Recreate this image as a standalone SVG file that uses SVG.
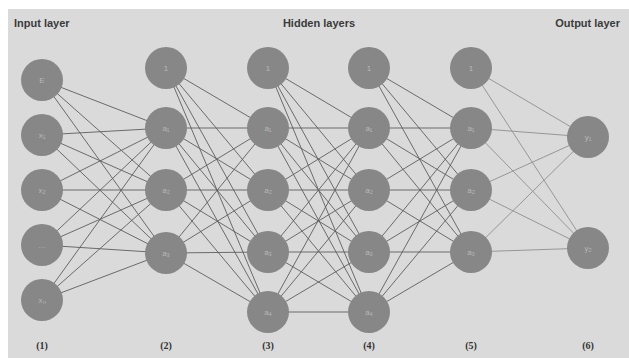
<svg xmlns="http://www.w3.org/2000/svg" width="629" height="358" viewBox="0 0 629 358">
<style>
.bg{fill:#dadada}
.node circle{fill:#878787}
.node text{fill:#b8b8b8;font-family:"Liberation Sans",Arial,sans-serif;font-size:8px;text-anchor:middle}
.edges line{stroke:#5e5e5e;stroke-width:0.9}
.edges .light line{stroke:#8e8e8e}
.title{fill:#3a3a3a;font-family:"Liberation Sans",Arial,sans-serif;font-size:11px;font-weight:bold}
.num{fill:#333;font-family:"Liberation Serif","Times New Roman",serif;font-size:10px;font-weight:bold;text-anchor:middle}
</style>
<rect x="0" y="0" width="629" height="358" fill="#ffffff"/>
<rect class="bg" x="8" y="9" width="621" height="349"/>
<text class="title" x="14" y="27">Input layer</text>
<text class="title" x="319" y="27" text-anchor="middle">Hidden layers</text>
<text class="title" x="620" y="27" text-anchor="end">Output layer</text>
<g class="edges">
<g id="e12">
<line x1="42" y1="80" x2="166" y2="128"/><line x1="42" y1="80" x2="166" y2="190"/><line x1="42" y1="80" x2="166" y2="253"/>
<line x1="42" y1="135" x2="166" y2="128"/><line x1="42" y1="135" x2="166" y2="190"/><line x1="42" y1="135" x2="166" y2="253"/>
<line x1="42" y1="190" x2="166" y2="128"/><line x1="42" y1="190" x2="166" y2="190"/><line x1="42" y1="190" x2="166" y2="253"/>
<line x1="42" y1="245" x2="166" y2="128"/><line x1="42" y1="245" x2="166" y2="190"/><line x1="42" y1="245" x2="166" y2="253"/>
<line x1="42" y1="300" x2="166" y2="128"/><line x1="42" y1="300" x2="166" y2="190"/><line x1="42" y1="300" x2="166" y2="253"/>
</g>
<g id="e23">
<line x1="166" y1="68" x2="268" y2="128"/><line x1="166" y1="68" x2="268" y2="190"/><line x1="166" y1="68" x2="268" y2="252"/><line x1="166" y1="68" x2="268" y2="312"/>
<line x1="166" y1="128" x2="268" y2="128"/><line x1="166" y1="128" x2="268" y2="190"/><line x1="166" y1="128" x2="268" y2="252"/><line x1="166" y1="128" x2="268" y2="312"/>
<line x1="166" y1="190" x2="268" y2="128"/><line x1="166" y1="190" x2="268" y2="190"/><line x1="166" y1="190" x2="268" y2="252"/><line x1="166" y1="190" x2="268" y2="312"/>
<line x1="166" y1="253" x2="268" y2="128"/><line x1="166" y1="253" x2="268" y2="190"/><line x1="166" y1="253" x2="268" y2="252"/><line x1="166" y1="253" x2="268" y2="312"/>
</g>
<g id="e34">
<line x1="268" y1="68" x2="369" y2="128"/><line x1="268" y1="68" x2="369" y2="190"/><line x1="268" y1="68" x2="369" y2="252"/><line x1="268" y1="68" x2="369" y2="312"/>
<line x1="268" y1="128" x2="369" y2="128"/><line x1="268" y1="128" x2="369" y2="190"/><line x1="268" y1="128" x2="369" y2="252"/><line x1="268" y1="128" x2="369" y2="312"/>
<line x1="268" y1="190" x2="369" y2="128"/><line x1="268" y1="190" x2="369" y2="190"/><line x1="268" y1="190" x2="369" y2="252"/><line x1="268" y1="190" x2="369" y2="312"/>
<line x1="268" y1="252" x2="369" y2="128"/><line x1="268" y1="252" x2="369" y2="190"/><line x1="268" y1="252" x2="369" y2="252"/><line x1="268" y1="252" x2="369" y2="312"/>
<line x1="268" y1="312" x2="369" y2="128"/><line x1="268" y1="312" x2="369" y2="190"/><line x1="268" y1="312" x2="369" y2="252"/><line x1="268" y1="312" x2="369" y2="312"/>
</g>
<g id="e45">
<line x1="369" y1="68" x2="471" y2="128"/><line x1="369" y1="68" x2="471" y2="190"/><line x1="369" y1="68" x2="471" y2="252"/>
<line x1="369" y1="128" x2="471" y2="128"/><line x1="369" y1="128" x2="471" y2="190"/><line x1="369" y1="128" x2="471" y2="252"/>
<line x1="369" y1="190" x2="471" y2="128"/><line x1="369" y1="190" x2="471" y2="190"/><line x1="369" y1="190" x2="471" y2="252"/>
<line x1="369" y1="252" x2="471" y2="128"/><line x1="369" y1="252" x2="471" y2="190"/><line x1="369" y1="252" x2="471" y2="252"/>
<line x1="369" y1="312" x2="471" y2="128"/><line x1="369" y1="312" x2="471" y2="190"/><line x1="369" y1="312" x2="471" y2="252"/>
</g>
<g id="e56" class="light">
<line x1="471" y1="68" x2="588" y2="137"/><line x1="471" y1="68" x2="588" y2="248"/>
<line x1="471" y1="128" x2="588" y2="137"/><line x1="471" y1="128" x2="588" y2="248"/>
<line x1="471" y1="190" x2="588" y2="137"/><line x1="471" y1="190" x2="588" y2="248"/>
<line x1="471" y1="252" x2="588" y2="137"/><line x1="471" y1="252" x2="588" y2="248"/>
</g>
</g>
<g id="l1n1" class="node"><circle cx="42" cy="80" r="21"/><text x="42" y="83">E</text></g>
<g id="l1n2" class="node"><circle cx="42" cy="135" r="21"/><text x="42" y="138">x₁</text></g>
<g id="l1n3" class="node"><circle cx="42" cy="190" r="21"/><text x="42" y="193">x₂</text></g>
<g id="l1n4" class="node"><circle cx="42" cy="245" r="21"/><text x="42" y="248">…</text></g>
<g id="l1n5" class="node"><circle cx="42" cy="300" r="21"/><text x="42" y="303">xₙ</text></g>
<g id="l2n1" class="node"><circle cx="166" cy="68" r="21"/><text x="166" y="71">1</text></g>
<g id="l2n2" class="node"><circle cx="166" cy="128" r="21"/><text x="166" y="131">a₁</text></g>
<g id="l2n3" class="node"><circle cx="166" cy="190" r="21"/><text x="166" y="193">a₂</text></g>
<g id="l2n4" class="node"><circle cx="166" cy="253" r="21"/><text x="166" y="256">a₃</text></g>
<g id="l3n1" class="node"><circle cx="268" cy="68" r="21"/><text x="268" y="71">1</text></g>
<g id="l3n2" class="node"><circle cx="268" cy="128" r="21"/><text x="268" y="131">a₁</text></g>
<g id="l3n3" class="node"><circle cx="268" cy="190" r="21"/><text x="268" y="193">a₂</text></g>
<g id="l3n4" class="node"><circle cx="268" cy="252" r="21"/><text x="268" y="255">a₃</text></g>
<g id="l3n5" class="node"><circle cx="268" cy="312" r="21"/><text x="268" y="315">a₄</text></g>
<g id="l4n1" class="node"><circle cx="369" cy="68" r="21"/><text x="369" y="71">1</text></g>
<g id="l4n2" class="node"><circle cx="369" cy="128" r="21"/><text x="369" y="131">a₁</text></g>
<g id="l4n3" class="node"><circle cx="369" cy="190" r="21"/><text x="369" y="193">a₂</text></g>
<g id="l4n4" class="node"><circle cx="369" cy="252" r="21"/><text x="369" y="255">a₃</text></g>
<g id="l4n5" class="node"><circle cx="369" cy="312" r="21"/><text x="369" y="315">a₄</text></g>
<g id="l5n1" class="node"><circle cx="471" cy="68" r="21"/><text x="471" y="71">1</text></g>
<g id="l5n2" class="node"><circle cx="471" cy="128" r="21"/><text x="471" y="131">a₁</text></g>
<g id="l5n3" class="node"><circle cx="471" cy="190" r="21"/><text x="471" y="193">a₂</text></g>
<g id="l5n4" class="node"><circle cx="471" cy="252" r="21"/><text x="471" y="255">a₃</text></g>
<g id="l6n1" class="node"><circle cx="588" cy="137" r="21"/><text x="588" y="140">y₁</text></g>
<g id="l6n2" class="node"><circle cx="588" cy="248" r="21"/><text x="588" y="251">y₂</text></g>
<text class="num" x="42" y="349">(1)</text>
<text class="num" x="166" y="349">(2)</text>
<text class="num" x="268" y="349">(3)</text>
<text class="num" x="369" y="349">(4)</text>
<text class="num" x="471" y="349">(5)</text>
<text class="num" x="588" y="349">(6)</text>
</svg>
